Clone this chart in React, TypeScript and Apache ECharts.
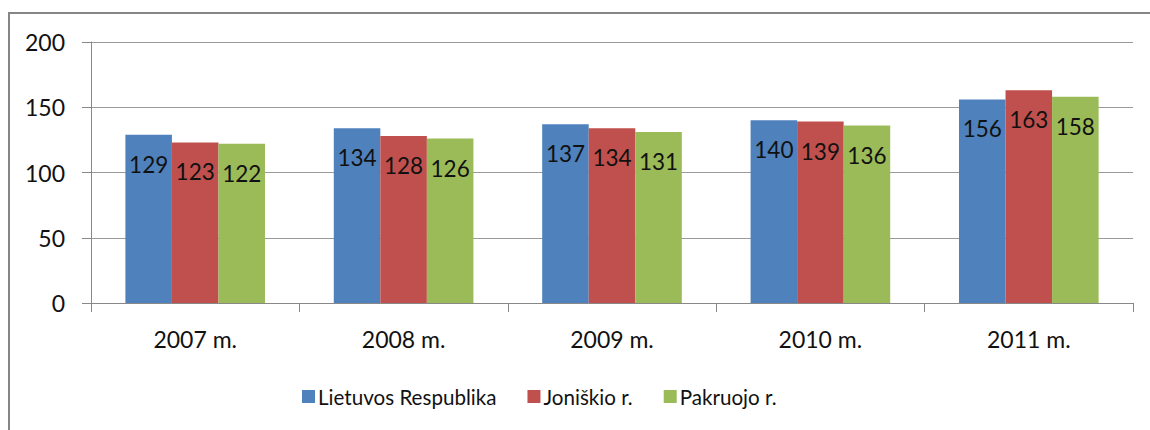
import React, { useEffect, useRef } from "react";
import * as echarts from "echarts";

const categories = ["2007 m.", "2008 m.", "2009 m.", "2010 m.", "2011 m."];
const seriesNames = ["Lietuvos Respublika", "Joniškio r.", "Pakruojo r."];
const lietuva = [129, 134, 137, 140, 156];
const joniskis = [123, 128, 134, 139, 163];
const pakruojis = [122, 126, 131, 136, 158];
const colors = ["#4F81BD", "#C0504D", "#9BBB59"];

const FONT = "Lato";

export default function App() {
  const ref = useRef<HTMLDivElement>(null);
  useEffect(() => {
    const chart = echarts.init(ref.current!, null, { renderer: "svg" });
    const data = [lietuva, joniskis, pakruojis];
    chart.setOption({
      animation: false,
      textStyle: { fontFamily: FONT },
      graphic: [
        {
          type: "rect",
          shape: { x: 9, y: 13, width: 1300, height: 600 },
          style: { fill: "none", stroke: "#868686", lineWidth: 2 },
          silent: true,
        },
      ],
      legend: {
        left: 297,
        top: 381,
        itemWidth: 13,
        itemHeight: 13,
        itemGap: 31,
        icon: "rect",
        textStyle: { fontFamily: FONT, fontSize: 20.6, color: "#111", padding: [0, 0, 0, -2] },
        data: seriesNames,
      },
      grid: { left: 91, right: 17, top: 42, bottom: 127, containLabel: false },
      xAxis: {
        type: "category",
        data: categories,
        axisLine: { lineStyle: { color: "#888", width: 1 } },
        axisTick: { show: true, length: 9, lineStyle: { color: "#888" } },
        axisLabel: { fontFamily: FONT, fontSize: 23, color: "#111", margin: 24 },
      },
      yAxis: {
        type: "value",
        min: 0,
        max: 200,
        interval: 50,
        axisLine: { show: true, lineStyle: { color: "#888", width: 1 } },
        axisTick: { show: true, length: 9, lineStyle: { color: "#888" } },
        splitLine: { lineStyle: { color: "#9a9a9a", width: 1 } },
        axisLabel: { fontFamily: FONT, fontSize: 23, color: "#111", margin: 26 },
      },
      series: seriesNames.map((name, i) => ({
        name,
        type: "bar",
        data: data[i],
        barGap: "0%",
        barCategoryGap: "33%",
        itemStyle: { color: colors[i] },
        label: {
          show: true,
          position: "insideTop",
          distance: 18,
          fontFamily: FONT,
          fontSize: 22.5,
          color: "#111",
        },
      })),
    });
    return () => chart.dispose();
  }, []);
  return (
    <div
      ref={ref}
      style={{ position: "fixed", left: 0, top: 0, width: 1150, height: 430, background: "#fff" }}
    />
  );
}
